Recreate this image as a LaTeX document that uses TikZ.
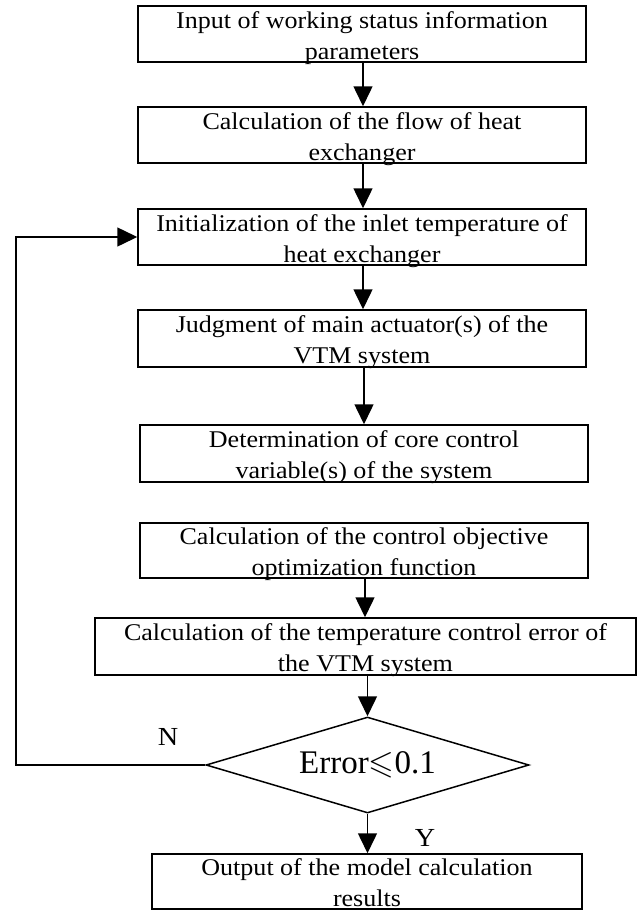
\documentclass[tikz,border=0pt]{standalone}
\usepackage{fontspec}
\usepackage{amssymb}
\setmainfont{Liberation Serif}
\newfontfamily\boxfont[FakeStretch=1.085]{Liberation Serif}
\usetikzlibrary{arrows.meta,shapes.geometric}

\tikzset{
  stepbox/.style={draw, line width=1.5pt, inner sep=0pt, minimum height=56pt},
  boxtext/.style={align=center, inner sep=0pt, font=\boxfont\fontsize{24}{31}\selectfont, yshift=-3.7pt},
  decision/.style={draw, diamond, line width=1.5pt, inner sep=0pt, aspect=3.36,
    minimum width=323pt, minimum height=96pt, font=\fontsize{33}{36}\selectfont},
  arr/.style={line width=1.5pt, -{Triangle[length=20pt,width=19pt]}},
  tag/.style={font=\boxfont\fontsize{26}{28}\selectfont, inner sep=0pt}
}

\begin{document}
\begin{tikzpicture}[x=1pt, y=-1pt]
  \useasboundingbox[fill=white] (0,0) rectangle (639,911);

  % process boxes
  \node[stepbox, minimum width=448pt, label={[boxtext]center:Input of working status information\\parameters}] (b1) at (362,34) {};
  \node[stepbox, minimum width=448pt, label={[boxtext]center:Calculation of the flow of heat\\exchanger}] (b2) at (362,135) {};
  \node[stepbox, minimum width=448pt, label={[boxtext]center:Initialization of the inlet temperature of\\heat exchanger}] (b3) at (362,237) {};
  \node[stepbox, minimum width=448pt, minimum height=57pt, label={[boxtext]center:Judgment of main actuator(s) of the\\VTM system}] (b4) at (362,338.5) {};
  \node[stepbox, minimum width=448pt, minimum height=57pt, label={[boxtext]center:Determination of core control\\variable(s) of the system}] (b5) at (364,453.5) {};
  \node[stepbox, minimum width=448pt, minimum height=55pt, label={[boxtext]center:Calculation of the control objective\\optimization function}] (b6) at (364,550.5) {};
  \node[stepbox, minimum width=541pt, minimum height=57pt, label={[boxtext]center:Calculation of the temperature control error of\\the VTM system}] (b7) at (365.5,646.5) {};
  \node[decision] (d) at (367.5,765) {Error$\leqslant$0.1};
  \node[stepbox, minimum width=430pt, minimum height=55pt, label={[boxtext]center:Output of the model calculation\\results\vphantom{p}}] (b8) at (367,881.5) {};

  % branch labels
  \node[tag] (n) at (168,737) {N};
  \node[tag] (y) at (425,838) {Y};

  % vertical positions of the connectors
  \coordinate (ax) at (363,0);
  \coordinate (bx) at (364,0);
  \coordinate (cx) at (365,0);
  \coordinate (dx) at (367.5,0);
  \coordinate (loopx) at (16,0);

  % connectors
  \draw[arr] (b1.south -| ax) -- (b2.north -| ax);
  \draw[arr] (b2.south -| ax) -- (b3.north -| ax);
  \draw[arr] (b3.south -| ax) -- (b4.north -| ax);
  \draw[arr] (b4.south -| bx) -- (b5.north -| bx);
  \draw[arr] (b6.south -| cx) -- (b7.north -| cx);
  \draw[arr] (b7.south -| dx) -- (d.north);
  \draw[arr] (d.south) -- (b8.north -| dx);
  \draw[arr] (d.west) -- (d.west -| loopx) -- (b3.west -| loopx) -- (b3.west);
\end{tikzpicture}
\end{document}
